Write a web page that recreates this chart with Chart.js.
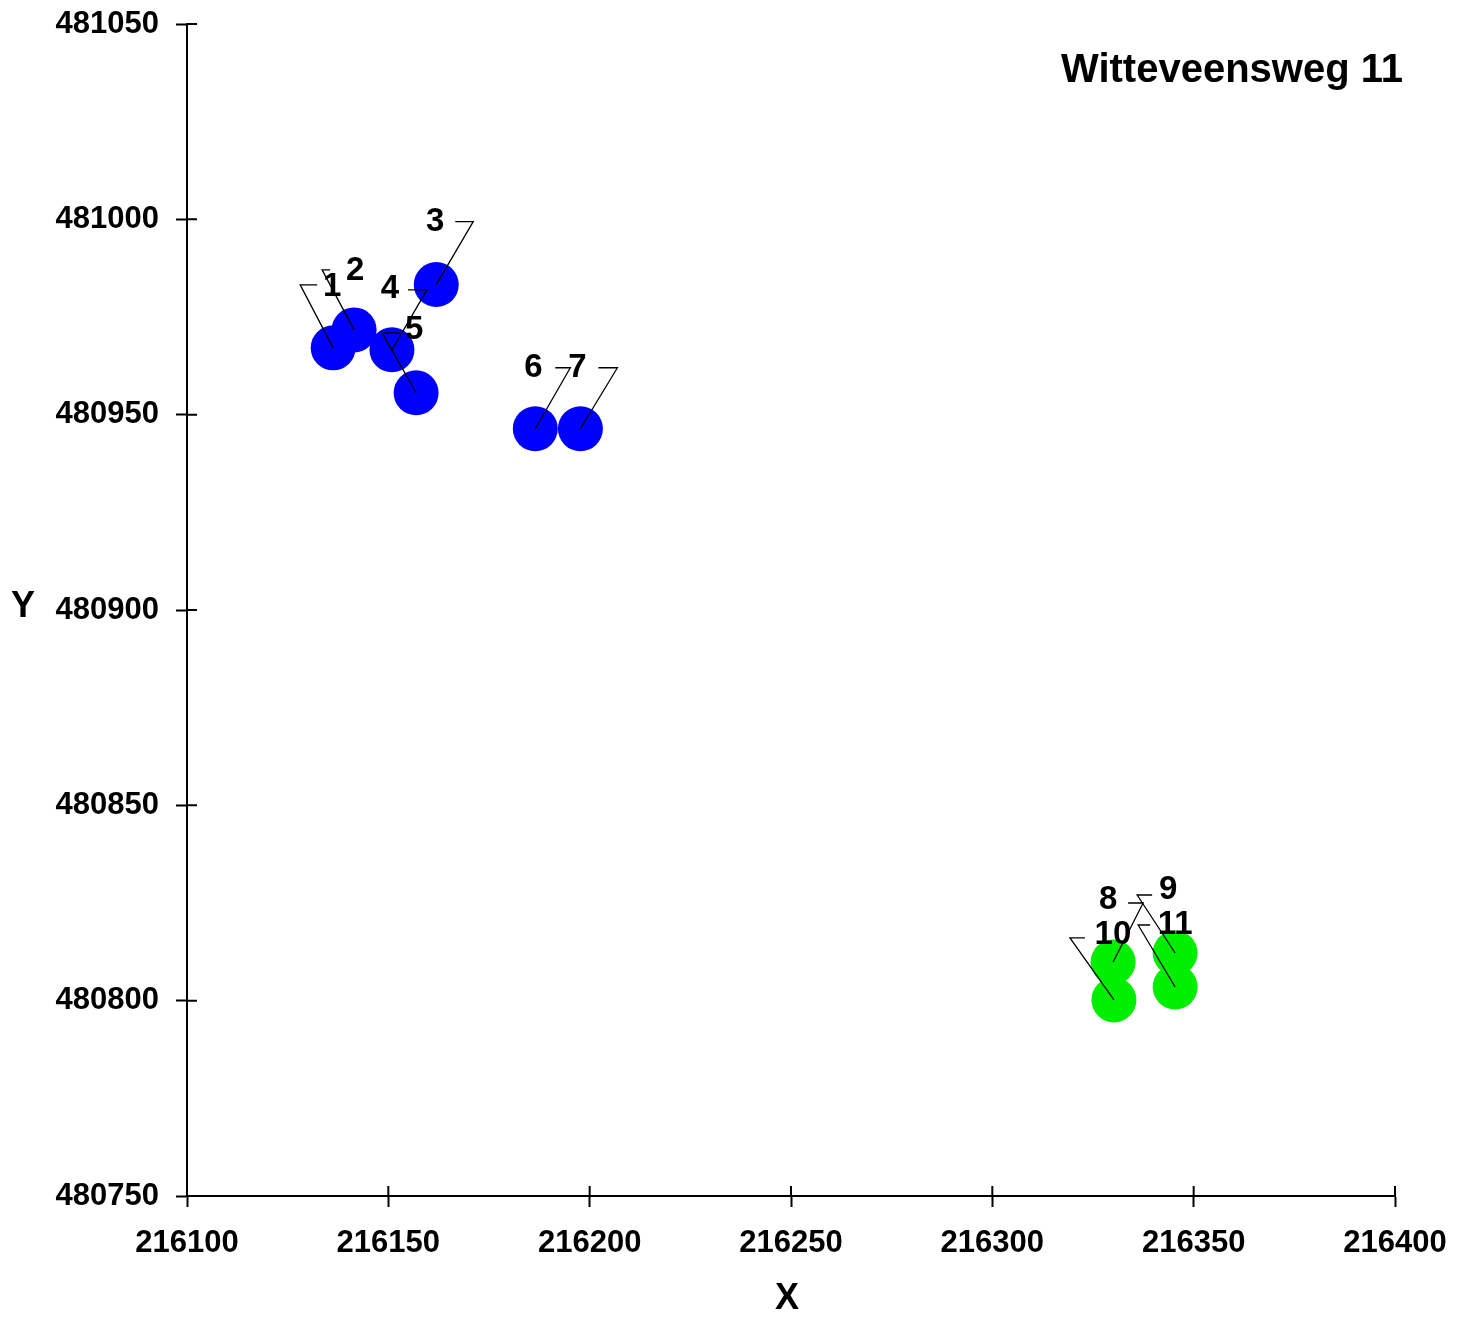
<!DOCTYPE html>
<html>
<head>
<meta charset="utf-8">
<script src="https://cdn.jsdelivr.net/npm/chart.js@4.4.1/dist/chart.umd.min.js"></script>
<style>
  body { margin: 0; background: #fff; }
  #wrap { width: 1469px; height: 1321px; }
</style>
</head>
<body>
<div id="wrap"><canvas id="xyChart" width="1469" height="1321"></canvas></div>
<script>
// point data (RD coordinates)
const blueNames = ['1', '2', '3', '4', '5', '6', '7'];
const blueX = [216136.3, 216141.5, 216161.9, 216150.9, 216156.9, 216186.5, 216197.7];
const blueY = [480967.1, 480971.7, 480983.3, 480966.6, 480955.6, 480946.4, 480946.4];

const greenNames = ['8', '9', '10', '11'];
const greenX = [216330.0, 216345.4, 216330.2, 216345.4];
const greenY = [480809.9, 480812.2, 480800.2, 480803.5];

const xTicks = [216100, 216150, 216200, 216250, 216300, 216350, 216400];
const yTicks = [480750, 480800, 480850, 480900, 480950, 481000, 481050];

const chartTitle = 'Witteveensweg 11';

// leader line placement in px: elbow dx, elbow dy, line end dx, text dx, text dy
const leaderLayout = {
  '1': [-33, -63, -16, -1, -61],
  '2': [-32, -60, -24, 1, -59],
  '3': [37, -63, 19, -1, -63],
  '4': [35, -60, 16, -2, -61],
  '5': [-34, -60, -16, -2, -63],
  '6': [35, -61, 20, -2, -61],
  '7': [37, -61, 18, -3, -61],
  '8': [30, -59, 15, -5, -62],
  '9': [-38, -58, -23, -7, -63],
  '10': [-44, -62, -29, -1, -65],
  '11': [-37, -62, -25, 0, -62]
};

const FONT = '"Liberation Sans", Arial, sans-serif';

function toPoints(xs, ys) {
  return xs.map((x, i) => ({ x: x, y: ys[i] }));
}

const overlay = {
  id: 'overlay',
  afterDatasetsDraw(chart) {
    const ctx = chart.ctx;
    const area = chart.chartArea;
    const sx = chart.scales.x;
    const sy = chart.scales.y;
    ctx.save();
    ctx.strokeStyle = '#000';
    ctx.lineWidth = 2;
    // inner half of the crossing tick marks
    ctx.beginPath();
    xTicks.forEach(v => {
      const px = sx.getPixelForValue(v);
      ctx.moveTo(px, area.bottom);
      ctx.lineTo(px, area.bottom - 10);
    });
    yTicks.forEach(v => {
      const py = sy.getPixelForValue(v);
      ctx.moveTo(area.left, py);
      ctx.lineTo(area.left + 10, py);
    });
    ctx.stroke();

    // leader lines + point labels
    ctx.lineWidth = 1.3;
    ctx.fillStyle = '#000';
    ctx.font = 'bold 33px ' + FONT;
    ctx.textAlign = 'center';
    ctx.textBaseline = 'middle';
    chart.data.datasets.forEach((ds, di) => {
      const meta = chart.getDatasetMeta(di);
      meta.data.forEach((pt, i) => {
        const name = ds.names[i];
        const l = leaderLayout[name];
        ctx.beginPath();
        ctx.moveTo(pt.x, pt.y);
        ctx.lineTo(pt.x + l[0], pt.y + l[1]);
        ctx.lineTo(pt.x + l[2], pt.y + l[1]);
        ctx.stroke();
        ctx.fillText(name, pt.x + l[3], pt.y + l[4]);
      });
    });

    // title and axis names
    ctx.font = 'bold 40px ' + FONT;
    ctx.textAlign = 'right';
    ctx.fillText(chartTitle, 1403, 71);
    ctx.font = 'bold 36px ' + FONT;
    ctx.textAlign = 'center';
    ctx.fillText('Y', 23, 607);
    ctx.fillText('X', 787, 1299);
    ctx.restore();
  }
};

new Chart(document.getElementById('xyChart'), {
  type: 'scatter',
  data: {
    datasets: [
      {
        names: blueNames,
        data: toPoints(blueX, blueY),
        backgroundColor: '#0000ff',
        borderWidth: 0,
        pointRadius: 22.5,
        pointHoverRadius: 22.5
      },
      {
        names: greenNames,
        data: toPoints(greenX, greenY),
        backgroundColor: '#00ee00',
        borderWidth: 0,
        pointRadius: 22.5,
        pointHoverRadius: 22.5
      }
    ]
  },
  options: {
    responsive: false,
    animation: false,
    devicePixelRatio: 1,
    layout: { padding: { top: 24, right: 74, left: 0, bottom: 0 } },
    plugins: { legend: { display: false }, tooltip: { enabled: false } },
    scales: {
      x: {
        type: 'linear',
        min: xTicks[0],
        max: xTicks[xTicks.length - 1],
        afterFit: s => { s.height = 125; s.paddingLeft = 0; s.paddingRight = 0; },
        afterBuildTicks: s => { s.ticks = xTicks.map(v => ({ value: v })); },
        ticks: {
          color: '#000',
          font: { family: FONT, size: 31, weight: 'bold' },
          padding: 18,
          maxRotation: 0,
          callback: v => String(v)
        },
        grid: { drawOnChartArea: false, color: '#000', tickLength: 11, tickWidth: 2 },
        border: { color: '#000', width: 2 }
      },
      y: {
        type: 'linear',
        min: yTicks[0],
        max: yTicks[yTicks.length - 1],
        afterFit: s => { s.width = 187; s.paddingTop = 0; s.paddingBottom = 0; },
        afterBuildTicks: s => { s.ticks = yTicks.map(v => ({ value: v })); },
        ticks: {
          color: '#000',
          font: { family: FONT, size: 31, weight: 'bold' },
          padding: 17,
          callback: v => String(v)
        },
        grid: { drawOnChartArea: false, color: '#000', tickLength: 11, tickWidth: 2 },
        border: { color: '#000', width: 2 }
      }
    }
  },
  plugins: [overlay]
});
</script>
</body>
</html>
